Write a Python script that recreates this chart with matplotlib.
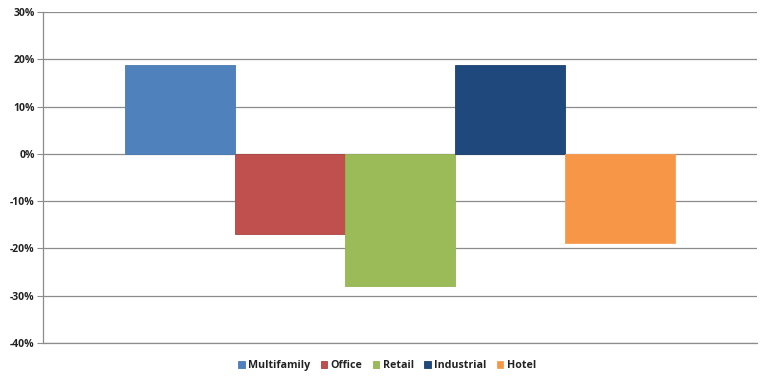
import matplotlib.pyplot as plt
from matplotlib.ticker import FuncFormatter

plt.rcParams['font.family'] = ['Open Sans', 'DejaVu Sans']

sectors = ["Multifamily", "Office", "Retail", "Industrial", "Hotel"]
changes = [18.8, -16.9, -27.9, 18.8, -18.8]
colors = ["#4F81BD", "#C0504D", "#9BBB59", "#1F497D", "#F79646"]
edges = ["#4A7AB3", "#A94543", "#94B455", "#1B416F", "#F5A056"]

fig = plt.figure(figsize=(7.7, 3.83), dpi=100)
ax = fig.add_axes([0.0558, 0.1044, 0.9272, 0.8643])

for i, (name, val) in enumerate(zip(sectors, changes)):
    ax.bar(i, val, width=1.0, color=colors[i], edgecolor=edges[i],
           linewidth=0.6, label=name, zorder=3)

ax.set_ylim(-40, 30)
ax.set_yticks(range(-40, 31, 10))
ax.yaxis.set_major_formatter(FuncFormatter(lambda v, p: f"{int(v)}%"))
ax.set_xlim(-1.245, 5.245)
ax.set_xticks([])

ax.grid(axis='y', color='#8C8C8C', linewidth=0.9, zorder=0)
ax.axhline(-40, color='#8C8C8C', linewidth=0.9, clip_on=False, zorder=1)
for s in ['top', 'right', 'bottom']:
    ax.spines[s].set_visible(False)
ax.spines['left'].set_color('#8C8C8C')
ax.spines['left'].set_linewidth(0.9)
ax.tick_params(axis='y', length=4, color='#8C8C8C', pad=2,
               labelsize=7.5, labelcolor='#222222')
for lab in ax.get_yticklabels():
    lab.set_fontweight('bold')

leg = ax.legend(loc='upper center', bbox_to_anchor=(0.482, -0.022), ncol=5,
                frameon=False, handlelength=0.6, handleheight=0.6,
                handletextpad=0.3, columnspacing=1.0,
                prop={'size': 7.7, 'weight': 'bold'})
for t in leg.get_texts():
    t.set_color('#222222')

fig.savefig("out.png", dpi=100)
